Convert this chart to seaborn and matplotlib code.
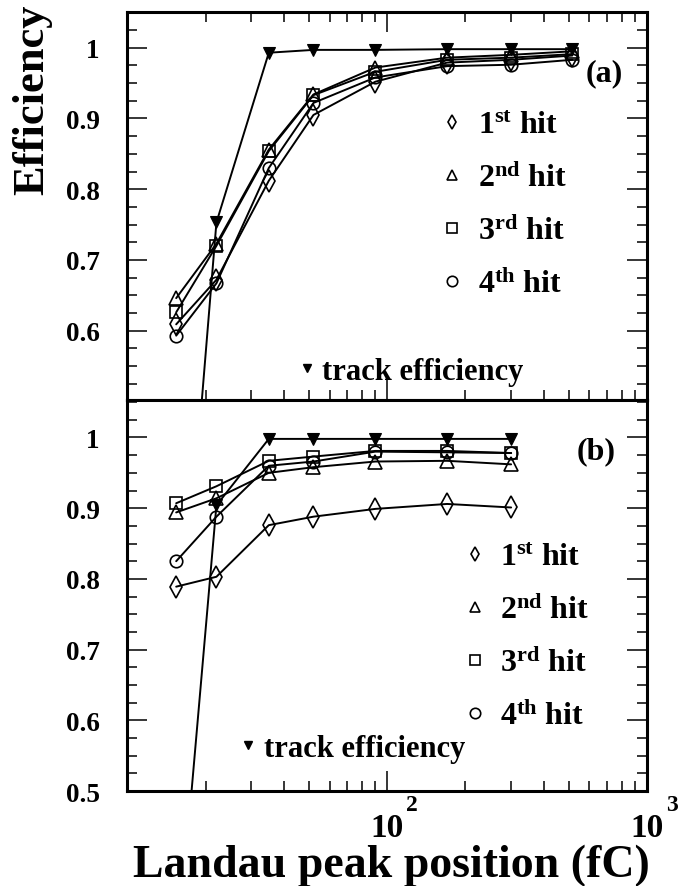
import numpy as np
import pandas as pd
import matplotlib
matplotlib.use("Agg")
import matplotlib.pyplot as plt
import matplotlib.transforms as mtrans
from matplotlib.lines import Line2D
from matplotlib.ticker import MultipleLocator
import seaborn as sns

# ---------------- data ----------------
x_top = [15.4, 22, 35, 52, 90, 170, 300, 516]
top_hit1 = [0.609, 0.672, 0.812, 0.905, 0.952, 0.979, 0.983, 0.989]
top_hit2 = [0.646, 0.723, 0.856, 0.934, 0.972, 0.986, 0.990, 0.995]
top_hit3 = [0.626, 0.720, 0.854, 0.933, 0.966, 0.983, 0.986, 0.991]
top_hit4 = [0.593, 0.667, 0.830, 0.922, 0.958, 0.974, 0.976, 0.983]
top_track = [0.06, 0.753, 0.993, 0.997, 0.997, 0.998, 0.998, 0.998]

x_bot = [15.4, 22, 35, 52, 90, 170, 300]
bot_hit1 = [0.789, 0.803, 0.876, 0.888, 0.899, 0.906, 0.901]
bot_hit2 = [0.894, 0.914, 0.950, 0.958, 0.966, 0.967, 0.962]
bot_hit3 = [0.907, 0.931, 0.967, 0.973, 0.981, 0.981, 0.978]
bot_hit4 = [0.825, 0.888, 0.960, 0.966, 0.980, 0.979, 0.978]
bot_track = [0.25, 0.904, 0.998, 0.998, 0.998, 0.998, 0.998]

hit_labels = [r"1$^{\rm st}$ hit", r"2$^{\rm nd}$ hit", r"3$^{\rm rd}$ hit", r"4$^{\rm th}$ hit"]
track_label = "track efficiency"
panel_labels = ["(a)", "(b)"]
y_ticks_top = [0.6, 0.7, 0.8, 0.9, 1.0]
y_ticklabels_top = ["0.6", "0.7", "0.8", "0.9", "1"]
y_ticks_bot = [0.5, 0.6, 0.7, 0.8, 0.9, 1.0]
y_ticklabels_bot = ["0.5", "0.6", "0.7", "0.8", "0.9", "1"]
x_label_values = [100, 1000]
x_label_exponents = ["2", "3"]
y_title = "Efficiency"
x_title = "Landau peak position (fC)"

# ---------------- style ----------------
sns.set_style("white")
plt.rcParams.update({
    "font.family": ["Liberation Serif", "DejaVu Serif"],
    "font.weight": "bold",
    "text.color": "black",
    "axes.labelcolor": "black",
    "xtick.color": "black",
    "ytick.color": "black",
    "axes.edgecolor": "black",
    "mathtext.fontset": "custom",
    "mathtext.rm": "Liberation Serif:bold",
    "mathtext.bf": "Liberation Serif:bold",
    "mathtext.it": "Liberation Serif:bold:italic",
    "mathtext.default": "rm",
})

hit_markers = ["d", "^", "s", "o"]
hit_ms = [11, 9.5, 9, 9]

fig = plt.figure(figsize=(6.81, 8.87), dpi=100)
ax1 = fig.add_axes([0.1872, 0.5479, 0.7628, 0.4374])
ax2 = fig.add_axes([0.1872, 0.1071, 0.7628, 0.4408])


def draw_panel(ax, x, hits, track):
    ax.set_xscale("log")
    for y, m, ms in zip(hits, hit_markers, hit_ms):
        df = pd.DataFrame({"x": x, "y": y})
        sns.lineplot(data=df, x="x", y="y", ax=ax, color="black", lw=1.4,
                     marker=m, markersize=ms, markerfacecolor="none",
                     markeredgecolor="black", markeredgewidth=1.2,
                     errorbar=None, legend=False, sort=False)
    df = pd.DataFrame({"x": x, "y": track})
    sns.lineplot(data=df, x="x", y="y", ax=ax, color="black", lw=1.4,
                 marker="v", markersize=8, markerfacecolor="black",
                 markeredgecolor="black", markeredgewidth=0.8,
                 errorbar=None, legend=False, sort=False)
    ax.set_xlabel("")
    ax.set_ylabel("")


draw_panel(ax1, x_top, [top_hit1, top_hit2, top_hit3, top_hit4], top_track)
draw_panel(ax2, x_bot, [bot_hit1, bot_hit2, bot_hit3, bot_hit4], bot_track)

ax1.set_ylim(0.502, 1.0505)
ax2.set_ylim(0.5, 1.053)
ax1.set_yticks(y_ticks_top, y_ticklabels_top)
ax2.set_yticks(y_ticks_bot, y_ticklabels_bot)

for ax, top in ((ax1, True), (ax2, False)):
    ax.set_xlim(10, 1000)
    ax.yaxis.set_minor_locator(MultipleLocator(0.025))
    ax.tick_params(which="both", direction="in", left=True, right=True,
                   bottom=True, top=top, labelbottom=False, width=1.1,
                   color="black")
    ax.tick_params(which="major", length=14.4)
    ax.tick_params(which="minor", length=7.2)
    ax.tick_params(axis="y", labelsize=19.5, pad=20, labelcolor="black")
    for s in ax.spines.values():
        s.set_linewidth(2.2)
        s.set_color("black")
        s.set_visible(True)

# x tick labels in ROOT style (10 with exponent)
trans = mtrans.blended_transform_factory(ax2.transData, ax2.transAxes)
trans_exp = mtrans.offset_copy(trans, fig=fig, x=13.7, y=0, units="points")
for v, e in zip(x_label_values, x_label_exponents):
    ax2.text(v, -0.115, "10", transform=trans, ha="center", va="baseline",
             fontsize=24, fontweight="bold", color="black")
    ax2.text(v, -0.048, e, transform=trans_exp, ha="left", va="baseline",
             fontsize=17, fontweight="bold", color="black")

# panel labels
ax1.text(0.917, 0.843, panel_labels[0], transform=ax1.transAxes,
         ha="center", va="center", fontsize=23, color="black")
ax2.text(0.902, 0.870, panel_labels[1], transform=ax2.transAxes,
         ha="center", va="center", fontsize=23, color="black")

# legends
def hit_handles():
    return [Line2D([], [], ls="none", marker=m, markersize=7.5,
                   markerfacecolor="none", markeredgecolor="black",
                   markeredgewidth=1.2) for m in hit_markers]


def track_handle():
    return [Line2D([], [], ls="none", marker="v", markersize=6,
                   markerfacecolor="black", markeredgecolor="black")]


for ax, hpos, tpos in ((ax1, (0.607, 0.745), (0.336, 0.111)),
                       (ax2, (0.650, 0.635), (0.2237, 0.146))):
    leg = ax.legend(hit_handles(), hit_labels, loc="upper left",
                    bbox_to_anchor=hpos, frameon=False, fontsize=23,
                    handlelength=0.6, handletextpad=0.5, labelspacing=0.72,
                    borderaxespad=0, borderpad=0, labelcolor="black")
    ax.add_artist(leg)
    ax.legend(track_handle(), [track_label], loc="upper left",
              bbox_to_anchor=tpos, frameon=False, fontsize=22,
              handlelength=0.3, handletextpad=0.35,
              borderaxespad=0, borderpad=0, labelcolor="black")

fig.text(0.047, 0.887, y_title, rotation=90, ha="center", va="center",
         fontsize=32, fontweight="bold", color="black")
fig.text(0.575, 0.0113, x_title, ha="center", va="baseline",
         fontsize=33, fontweight="bold", color="black")

fig.savefig("out.png", dpi=100, facecolor="white")
